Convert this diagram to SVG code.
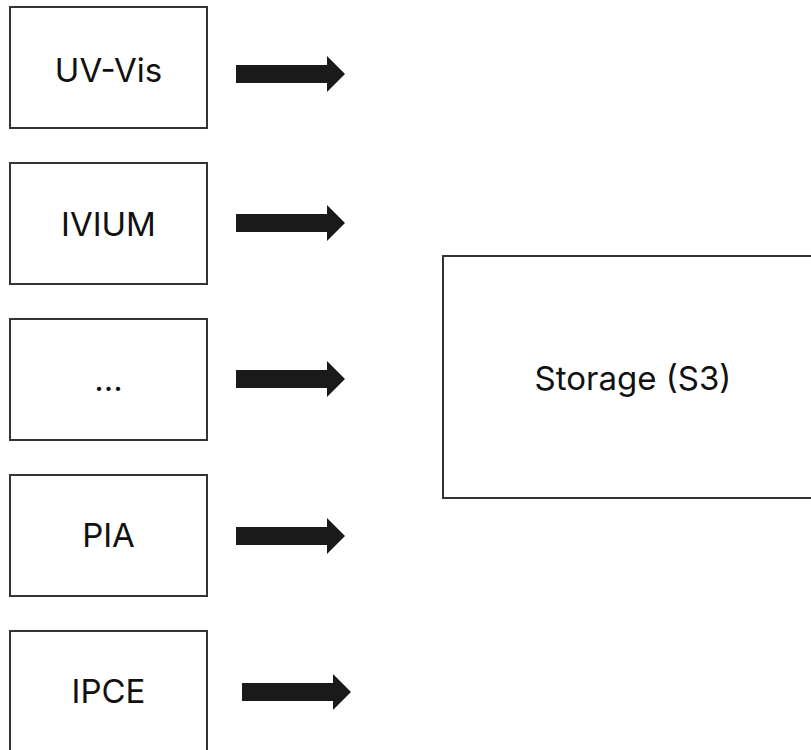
<svg xmlns="http://www.w3.org/2000/svg" width="811" height="750" viewBox="0 0 811 750">
<style>
.box{fill:#fff;stroke:#333;stroke-width:2}
.lbl{font-family:Inter,"Liberation Sans",sans-serif;font-size:33px;fill:#111;text-anchor:middle}
.arr{fill:#1a1a1a}
</style>
<defs>
<path id="arrow" d="M0,-9 H91 V-18 L109,0 L91,18 V9 H0 Z"/>
</defs>
<rect width="811" height="750" fill="#fff"/>
<g id="uvvis"><rect class="box" x="10" y="7" width="197" height="121"/><text class="lbl" x="108.5" y="82">UV-Vis</text></g>
<g id="ivium"><rect class="box" x="10" y="163" width="197" height="121"/><text class="lbl" x="108.5" y="236">IVIUM</text></g>
<g id="dots"><rect class="box" x="10" y="319" width="197" height="121"/><text class="lbl" x="108.5" y="391">...</text></g>
<g id="pia"><rect class="box" x="10" y="475" width="197" height="121"/><text class="lbl" x="108.5" y="547">PIA</text></g>
<g id="ipce"><rect class="box" x="10" y="631" width="197" height="125"/><text class="lbl" x="108.5" y="703">IPCE</text></g>
<g id="storage"><rect class="box" x="443" y="256" width="370" height="242"/><text class="lbl" x="633" y="390">Storage (S3)</text></g>
<g id="connectors">
<use class="arr" href="#arrow" x="236" y="74"/>
<use class="arr" href="#arrow" x="236" y="223"/>
<use class="arr" href="#arrow" x="236" y="379"/>
<use class="arr" href="#arrow" x="236" y="536"/>
<use class="arr" href="#arrow" x="242" y="692"/>
</g>
</svg>
